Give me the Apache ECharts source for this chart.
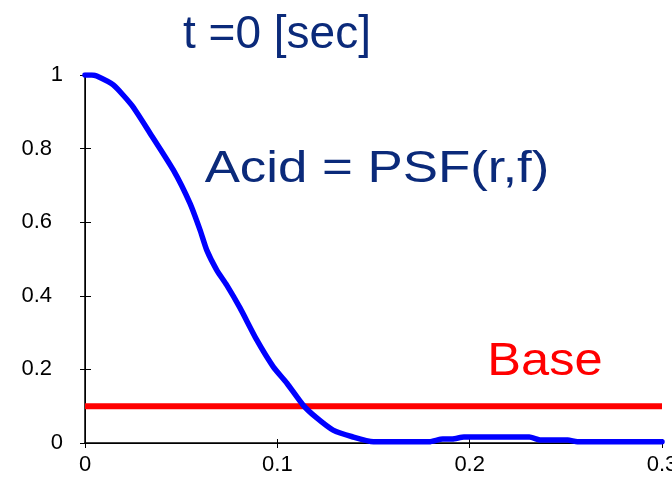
<!DOCTYPE html>
<html>
<head>
<meta charset="utf-8">
<script src="https://cdn.jsdelivr.net/npm/echarts@6/dist/echarts.min.js"></script>
<style>
  html, body { margin: 0; padding: 0; background: #ffffff; }
  #chart { width: 672px; height: 477px; }
</style>
</head>
<body>
<div id="chart"></div>
<script>
// Point spread profile at t = 0 and the base level
const radius = [0, 0.0035, 0.0061, 0.0147, 0.0243, 0.0338, 0.0459, 0.0546, 0.0598,
  0.0633, 0.0685, 0.0737, 0.0806, 0.0893, 0.0979, 0.1049, 0.1134, 0.1205, 0.129,
  0.139, 0.150, 0.179, 0.186, 0.191, 0.197, 0.231, 0.237, 0.251, 0.256, 0.3];
const acid = [1.0, 1.0, 0.997, 0.973, 0.918, 0.842, 0.742, 0.651, 0.579,
  0.524, 0.470, 0.429, 0.367, 0.280, 0.207, 0.163, 0.103, 0.068, 0.035,
  0.017, 0.0035, 0.0035, 0.011, 0.011, 0.016, 0.016, 0.008, 0.008, 0.0035, 0.0035];
const baseX = [0, 0.3];
const baseY = [0.1, 0.1];
const xTickLabels = ['0', '0.1', '0.2', '0.3'];
const yTickLabels = ['0', '0.2', '0.4', '0.6', '0.8', '1'];

const FONT = "'Liberation Sans', Arial, sans-serif";
const NAVY = '#0b2a7a';

const chart = echarts.init(document.getElementById('chart'), null, { renderer: 'canvas' });

const boxAxis = {
  axisLine: { show: true, lineStyle: { color: '#000', width: 1 } },
  axisTick: { show: true, inside: true, length: 5, lineStyle: { color: '#000' } },
  axisLabel: { show: false },
  splitLine: { show: false }
};

chart.setOption({
  animation: false,
  backgroundColor: '#ffffff',
  grid: { left: 85, right: 10, top: 75, bottom: 34, containLabel: false, outerBoundsMode: 'none' },
  xAxis: [{
    type: 'value', min: 0, max: 0.3, interval: 0.1,
    axisLine: { show: true, lineStyle: { color: '#000', width: 1.5 } },
    axisTick: { show: true, inside: true, length: 4, lineStyle: { color: '#000' } },
    axisLabel: {
      fontSize: 22, color: '#000', fontFamily: 'Liberation Sans', margin: 11,
      formatter: (v, i) => xTickLabels[i]
    },
    splitLine: { show: false }
  }, Object.assign({ type: 'value', min: 0, max: 0.3, interval: 0.1, position: 'top' }, boxAxis)],
  yAxis: [{
    type: 'value', min: 0, max: 1, interval: 0.2,
    axisLine: { show: true, lineStyle: { color: '#000', width: 1.5 } },
    axisTick: { show: true, inside: true, length: 6, lineStyle: { color: '#000' } },
    axisLabel: {
      fontSize: 22, color: '#000', fontFamily: 'Liberation Sans', margin: 22,
      formatter: (v, i) => {
        const t = yTickLabels[i];
        return t.indexOf('.') >= 0 ? '{d|' + t + '}' : '{n|' + t + '}';
      },
      rich: {
        d: { fontSize: 22, color: '#000', fontFamily: 'Liberation Sans', padding: [0, 11, 0, 0] },
        n: { fontSize: 22, color: '#000', fontFamily: 'Liberation Sans' }
      }
    },
    splitLine: { show: false }
  }, Object.assign({ type: 'value', min: 0, max: 1, interval: 0.2, position: 'right' }, boxAxis)],
  series: [{
    type: 'line',
    data: baseX.map((x, i) => [x, baseY[i]]),
    showSymbol: false,
    lineStyle: { color: '#ff0000', width: 6 },
    z: 3
  }, {
    type: 'line',
    data: radius.map((x, i) => [x, acid[i]]),
    showSymbol: false,
    smooth: 0.2,
    lineStyle: { color: '#0000ff', width: 5.5, join: 'round', cap: 'round' },
    z: 4
  }],
  graphic: [{
    type: 'text', x: 277, y: 35,
    style: { text: 't =0 [sec]', fill: NAVY, font: '46px ' + FONT, align: 'center', verticalAlign: 'middle' }
  }, {
    type: 'text', x: 377, y: 170, scaleX: 1.2,
    style: { text: 'Acid = PSF(r,f)', fill: NAVY, font: '44px ' + FONT, align: 'center', verticalAlign: 'middle' }
  }, {
    type: 'text', x: 545, y: 362, scaleX: 1.1,
    style: { text: 'Base', fill: '#ff0000', font: '46px ' + FONT, align: 'center', verticalAlign: 'middle' }
  }]
});
</script>
</body>
</html>
